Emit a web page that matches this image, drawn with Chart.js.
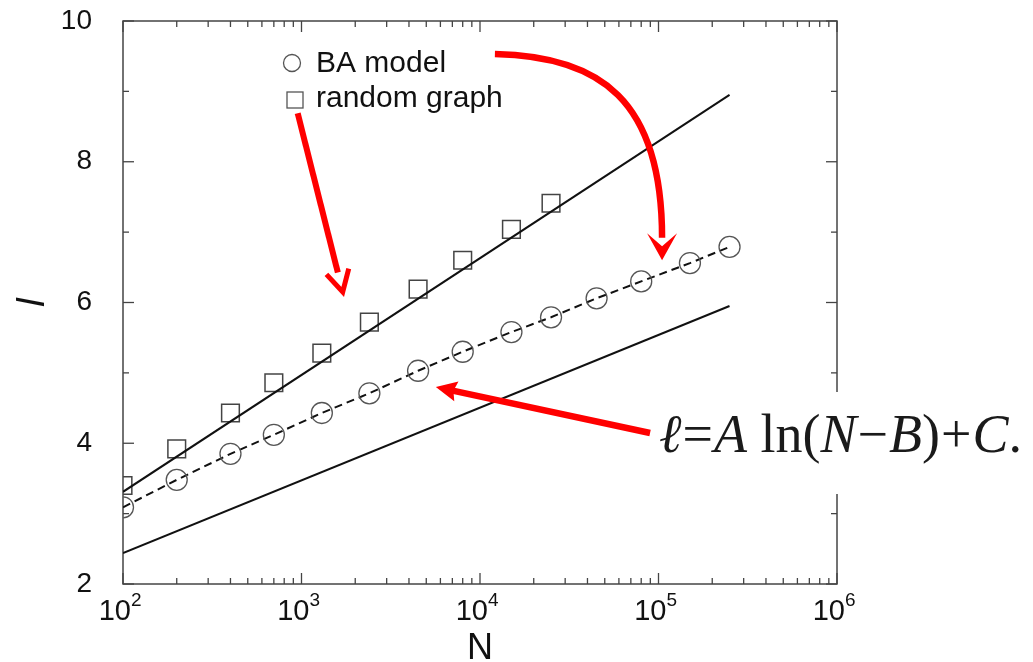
<!DOCTYPE html>
<html>
<head>
<meta charset="utf-8">
<script src="https://cdn.jsdelivr.net/npm/chart.js@4.4.1/dist/chart.umd.min.js"></script>
<style>
  html, body { margin: 0; padding: 0; background: #fff; }
  #wrap { position: relative; width: 1033px; height: 662px; }
  #formula {
    position: absolute; left: 655px; top: 392px; width: 378px; height: 102px;
    background: #fff; box-sizing: border-box; padding: 15px 0 0 4px;
    font-family: "Liberation Serif", "Times New Roman", serif; font-size: 54px;
    line-height: 54px; color: #1a1a1a; white-space: nowrap;
  }
  #formula .op { margin: 0 1px; }
</style>
</head>
<body>
<div id="wrap">
  <canvas id="lengthChart" width="1033" height="662"></canvas>
  <div id="formula"><i>ℓ</i><span class="op">=</span><i>A</i> ln(<i>N</i><span class="op">−</span><i>B</i>)<span class="op">+</span><i>C</i>.</div>
</div>
<script>
// network size N and average path length l
const nBA = [100, 200, 400, 700, 1300, 2400, 4500, 8000, 15000, 25000, 45000, 80000, 150000, 250000];
const lBA = [3.09, 3.48, 3.85, 4.12, 4.43, 4.71, 5.03, 5.30, 5.58, 5.79, 6.06, 6.30, 6.56, 6.79];
const nRandom = [100, 200, 400, 700, 1300, 2400, 4500, 8000, 15000, 25000];
const lRandom = [3.40, 3.92, 4.43, 4.86, 5.28, 5.72, 6.19, 6.60, 7.04, 7.41];
// the two solid reference lines
const nBounds = [100, 250000];
const lUpper = [3.31, 8.95];
const lLower = [2.44, 5.95];

// axis ticks
const xMajorTicks = [1e2, 1e3, 1e4, 1e5, 1e6];
const xMinorMultiples = [2, 3, 4, 5, 6, 7, 8, 9];
const yMajorTicks = [2, 4, 6, 8, 10];
const yMinorTicks = [3, 5, 7, 9];

// red annotation arrows, in data units [N, l]
const arrowRandom = { from: [952, 8.69], tip: [1702, 6.15] };
const arrowBA = { from: [12120, 9.53], c1: [47000, 9.50], c2: [104700, 8.88], end: [104700, 6.92], tip: [104700, 6.60] };
const arrowFit = { from: [89700, 4.145], tip: [5657, 4.80] };

const pts = (xs, ys) => xs.map((v, i) => ({ x: v, y: ys[i] }));

function line(ctx, x1, y1, x2, y2) {
  ctx.beginPath(); ctx.moveTo(x1, y1); ctx.lineTo(x2, y2); ctx.stroke();
}

function filledHead(ctx, tx, ty, ang, len, half, notch) {
  const dx = Math.cos(ang), dy = Math.sin(ang);
  const bx = tx - dx * len, by = ty - dy * len;
  ctx.beginPath();
  ctx.moveTo(tx, ty);
  ctx.lineTo(bx - dy * half, by + dx * half);
  ctx.lineTo(tx - dx * (len - notch), ty - dy * (len - notch));
  ctx.lineTo(bx + dy * half, by - dx * half);
  ctx.closePath();
  ctx.fill();
}

const paperPlugin = {
  id: 'paper',
  beforeDatasetsDraw(chart) {
    const { ctx, chartArea: a, scales: { x, y } } = chart;
    ctx.save();
    ctx.strokeStyle = '#444';
    ctx.lineWidth = 1.5;
    ctx.strokeRect(a.left, a.top, a.right - a.left, a.bottom - a.top);
    ctx.lineWidth = 1.3;
    xMajorTicks.forEach(d => {
      const px = x.getPixelForValue(d);
      line(ctx, px, a.bottom, px, a.bottom - 11);
      line(ctx, px, a.top, px, a.top + 11);
      if (d >= 1e6) return;
      xMinorMultiples.forEach(m => {
        const mx = x.getPixelForValue(d * m);
        line(ctx, mx, a.bottom, mx, a.bottom - 6);
        line(ctx, mx, a.top, mx, a.top + 6);
      });
    });
    yMajorTicks.forEach(v => {
      const py = y.getPixelForValue(v);
      line(ctx, a.left, py, a.left + 11, py);
      line(ctx, a.right, py, a.right - 11, py);
    });
    yMinorTicks.forEach(v => {
      const py = y.getPixelForValue(v);
      line(ctx, a.left, py, a.left + 6, py);
      line(ctx, a.right, py, a.right - 6, py);
    });
    ctx.restore();
  },
  afterDraw(chart) {
    const { ctx, chartArea: a, scales: { x, y } } = chart;
    const P = p => [x.getPixelForValue(p[0]), y.getPixelForValue(p[1])];
    ctx.save();
    ctx.fillStyle = '#111';
    ctx.textBaseline = 'alphabetic';

    // x tick labels 10^k
    xMajorTicks.forEach(d => {
      const px = x.getPixelForValue(d);
      ctx.font = '29px "Liberation Sans", Arial, sans-serif';
      ctx.textAlign = 'right';
      ctx.fillText('10', px + 8, a.bottom + 36);
      ctx.font = '19px "Liberation Sans", Arial, sans-serif';
      ctx.textAlign = 'left';
      ctx.fillText(String(Math.round(Math.log10(d))), px + 8, a.bottom + 22);
    });

    // axis titles
    ctx.font = '36px "Liberation Sans", Arial, sans-serif';
    ctx.textAlign = 'center';
    ctx.fillText('N', (a.left + a.right) / 2, a.bottom + 75);
    ctx.save();
    ctx.translate(44, (a.top + a.bottom) / 2);
    ctx.rotate(-Math.PI / 2);
    ctx.font = 'italic 38px "Liberation Sans", Arial, sans-serif';
    ctx.fillText('l', 0, 0);
    ctx.restore();

    // legend
    ctx.strokeStyle = '#555';
    ctx.lineWidth = 1.3;
    ctx.beginPath(); ctx.arc(292, 63, 8.5, 0, Math.PI * 2); ctx.stroke();
    ctx.strokeRect(287, 92, 16, 16);
    ctx.font = '30px "Liberation Sans", Arial, sans-serif';
    ctx.textAlign = 'left';
    ctx.fillText('BA model', 316, 72);
    ctx.fillText('random graph', 316, 107);

    // red arrows
    ctx.strokeStyle = '#ff0000';
    ctx.fillStyle = '#ff0000';
    ctx.lineCap = 'butt';
    ctx.lineJoin = 'miter';

    let [fx, fy] = P(arrowRandom.from), [tx, ty] = P(arrowRandom.tip);
    let ang = Math.atan2(ty - fy, tx - fx);
    ctx.lineWidth = 6;
    line(ctx, fx, fy, tx - Math.cos(ang) * 20, ty - Math.sin(ang) * 20);
    ctx.lineWidth = 5;
    ctx.beginPath();
    ctx.moveTo(tx - Math.cos(ang - 0.5) * 24, ty - Math.sin(ang - 0.5) * 24);
    ctx.lineTo(tx, ty);
    ctx.lineTo(tx - Math.cos(ang + 0.5) * 24, ty - Math.sin(ang + 0.5) * 24);
    ctx.stroke();

    const s = P(arrowBA.from), c1 = P(arrowBA.c1), c2 = P(arrowBA.c2), e = P(arrowBA.end), t2 = P(arrowBA.tip);
    ctx.lineWidth = 6.5;
    ctx.beginPath();
    ctx.moveTo(s[0], s[1]);
    ctx.bezierCurveTo(c1[0], c1[1], c2[0], c2[1], e[0], e[1]);
    ctx.stroke();
    filledHead(ctx, t2[0], t2[1], Math.atan2(t2[1] - e[1], t2[0] - e[0]), 27, 15, 13);

    [fx, fy] = P(arrowFit.from); [tx, ty] = P(arrowFit.tip);
    ang = Math.atan2(ty - fy, tx - fx);
    ctx.lineWidth = 6.5;
    line(ctx, fx, fy, tx - Math.cos(ang) * 16, ty - Math.sin(ang) * 16);
    filledHead(ctx, tx, ty, ang, 21, 10, 3);

    ctx.restore();
  }
};

new Chart(document.getElementById('lengthChart'), {
  type: 'scatter',
  data: {
    datasets: [
      {
        data: pts(nBounds, lUpper), showLine: true,
        borderColor: '#111', borderWidth: 2, pointRadius: 0
      },
      {
        data: pts(nBounds, lLower), showLine: true,
        borderColor: '#111', borderWidth: 2, pointRadius: 0
      },
      {
        label: 'BA model',
        data: pts(nBA, lBA), showLine: true,
        borderColor: '#111', borderWidth: 2, borderDash: [8, 5],
        pointStyle: 'circle', pointRadius: 10.5,
        pointBorderColor: '#555', pointBorderWidth: 1.3,
        pointBackgroundColor: 'rgba(0,0,0,0)'
      },
      {
        label: 'random graph',
        data: pts(nRandom, lRandom), showLine: false,
        pointStyle: 'rect', pointRadius: 12.5,
        pointBorderColor: '#444', pointBorderWidth: 1.5,
        pointBackgroundColor: 'rgba(0,0,0,0)'
      }
    ]
  },
  options: {
    responsive: false,
    animation: false,
    events: [],
    layout: { padding: { top: 21, right: 196, left: 0, bottom: 0 } },
    plugins: { legend: { display: false }, tooltip: { enabled: false } },
    scales: {
      x: {
        type: 'logarithmic', min: 100, max: 1e6,
        grid: { display: false }, border: { display: false },
        ticks: { display: false },
        afterFit: s => { s.height = 78; s.paddingLeft = 0; s.paddingRight = 0; }
      },
      y: {
        min: 2, max: 10,
        grid: { display: false }, border: { display: false },
        ticks: {
          stepSize: 2, padding: 23, color: '#111',
          font: { family: '"Liberation Sans", Arial, sans-serif', size: 28 }
        },
        afterFit: s => { s.width = 123; s.paddingTop = 0; s.paddingBottom = 0; }
      }
    }
  },
  plugins: [paperPlugin]
});
</script>
</body>
</html>
